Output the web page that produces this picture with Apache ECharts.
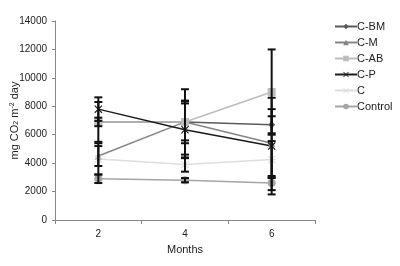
<!DOCTYPE html>
<html>
<head>
<meta charset="utf-8">
<script src="https://cdn.jsdelivr.net/npm/echarts@6/dist/echarts.min.js"></script>
<style>
  html, body { margin: 0; padding: 0; background: #fff; }
  #chart { width: 400px; height: 266px; }
</style>
</head>
<body>
<div id="chart"></div>
<script>
// months on the x axis
var months = ['2', '4', '6'];

// mean values (mg CO2 m-2 day)
var cBM     = [6900, 6900, 6700];
var cM      = [4500, 6900, 5400];
var cAB     = [6900, 6900, 9000];
var cP      = [7800, 6350, 5200];
var cC      = [4300, 3900, 4250];
var control = [2900, 2800, 2600];

// error bar half-widths
var errBM      = [300, 1300, 600];
var errM       = [700, 1500, 2400];
var errAB      = [1400, 2300, 3000];
var errP       = [830, 2000, 3400];
var errC       = [1100, 500, 1300];
var errControl = [300, 150, 500];

var xPath = 'path://M0,1L1,0L5,4L9,0L10,1L6,5L10,9L9,10L5,6L1,10L0,9L4,5Z';
var starPath = 'path://M0,1L1,0L5,4L9,0L10,1L6,5L10,9L9,10L5,6L1,10L0,9L4,5Z M0,4.4L10,4.4L10,5.6L0,5.6Z';

var font = 'Liberation Sans, Arial, sans-serif';

function errData(vals, errs) {
    var out = [];
    for (var i = 0; i < vals.length; i++) {
        out.push([i, vals[i] - errs[i], vals[i] + errs[i]]);
    }
    return out;
}

var allErr = []
    .concat(errData(cBM, errBM))
    .concat(errData(cM, errM))
    .concat(errData(cAB, errAB))
    .concat(errData(cP, errP))
    .concat(errData(cC, errC))
    .concat(errData(control, errControl));

function lineSeries(name, data, color, symbol, size) {
    return {
        name: name,
        type: 'line',
        data: data,
        symbol: symbol,
        symbolSize: size,
        showAllSymbol: true,
        lineStyle: { color: color, width: 1.5 },
        itemStyle: { color: color },
        z: 3
    };
}

var chart = echarts.init(document.getElementById('chart'));
chart.setOption({
    animation: false,
    backgroundColor: '#fff',
    grid: { left: 55, right: 85, top: 21, bottom: 46, containLabel: false, outerBoundsMode: 'none' },
    legend: {
        orient: 'vertical',
        left: 329,
        top: 16,
        itemWidth: 22,
        itemHeight: 7,
        itemGap: 5,
        textStyle: { fontFamily: font, fontSize: 11, color: '#222', padding: [0, 0, 0, -5] },
        data: ['C-BM', 'C-M', 'C-AB', 'C-P', 'C', 'Control']
    },
    xAxis: {
        type: 'category',
        data: months,
        boundaryGap: true,
        name: 'Months',
        nameLocation: 'middle',
        nameGap: 24,
        nameTextStyle: { fontFamily: font, fontSize: 11, color: '#222' },
        axisLine: { lineStyle: { color: '#888' } },
        axisTick: { show: true, length: 4, lineStyle: { color: '#888' } },
        axisLabel: { fontFamily: font, fontSize: 10, color: '#222', margin: 9 }
    },
    yAxis: {
        type: 'value',
        min: 0,
        max: 14000,
        interval: 2000,
        name: '{t|mg CO}{s|2}{t| m}{p|-2}{t| day}',
        nameLocation: 'middle',
        nameGap: 35,
        nameRotate: 90,
        nameMoveOverlap: false,
        nameTextStyle: {
            rich: {
                t: { fontFamily: font, fontSize: 11, color: '#222' },
                s: { fontFamily: font, fontSize: 7, color: '#222', verticalAlign: 'bottom', padding: [4, 0, 0, 0] },
                p: { fontFamily: font, fontSize: 7, color: '#222', verticalAlign: 'top', padding: [0, 0, 4, 0] }
            }
        },
        splitLine: { show: false },
        axisLine: { show: true, lineStyle: { color: '#888' } },
        axisTick: { show: true, length: 3, lineStyle: { color: '#888' } },
        axisLabel: {
            fontFamily: font, fontSize: 10, color: '#222', margin: 8,
            formatter: function (v) { return String(v); }
        }
    },
    series: [
        {
            name: 'err',
            type: 'custom',
            data: allErr,
            z: 4,
            renderItem: function (params, api) {
                var x = api.value(0);
                var lo = api.coord([x, api.value(1)]);
                var hi = api.coord([x, api.value(2)]);
                var w = 4;
                return {
                    type: 'group',
                    children: [
                        { type: 'line', shape: { x1: lo[0], y1: lo[1], x2: hi[0], y2: hi[1] }, style: { stroke: '#111', lineWidth: 2 } },
                        { type: 'line', shape: { x1: lo[0] - w, y1: lo[1], x2: lo[0] + w, y2: lo[1] }, style: { stroke: '#111', lineWidth: 2 } },
                        { type: 'line', shape: { x1: hi[0] - w, y1: hi[1], x2: hi[0] + w, y2: hi[1] }, style: { stroke: '#111', lineWidth: 2 } }
                    ]
                };
            }
        },
        lineSeries('C-BM', cBM, '#5a5a5a', 'diamond', 7),
        lineSeries('C-M', cM, '#858585', 'triangle', 7),
        lineSeries('C-AB', cAB, '#bdbdbd', 'rect', 8),
        lineSeries('C-P', cP, '#1a1a1a', xPath, 8),
        lineSeries('C', cC, '#dedede', starPath, 8),
        lineSeries('Control', control, '#a5a5a5', 'circle', 8)
    ]
});
</script>
</body>
</html>
